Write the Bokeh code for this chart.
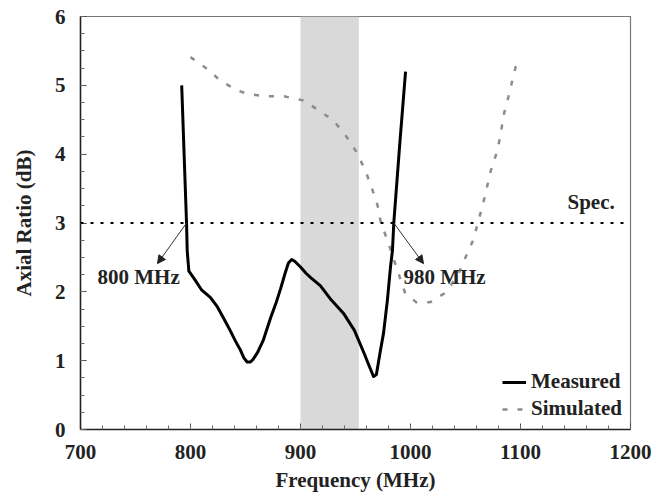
from bokeh.plotting import figure
from bokeh.models import (FixedTicker, Span, Arrow, NormalHead, Label, Legend, LegendItem,
                          Range1d)
from bokeh.embed import file_html
from bokeh.resources import INLINE

# ---- data ----
freq_measured = [792, 794.4, 796.4, 797, 798.5, 803, 810, 818, 824.5, 830, 836, 841, 845.5,
                 848.5, 851.5, 854.5, 857, 861, 866, 873, 878, 882, 886, 889, 892, 895, 900,
                 905, 909, 918, 927, 939, 949, 958, 963, 966.4, 969, 972.7, 975.5,
                 979, 981.8, 983.6, 984.8, 990, 995.5]
ar_measured = [5.0, 3.9, 3.0, 2.6, 2.3, 2.2, 2.03, 1.92, 1.78, 1.62, 1.44, 1.28, 1.15,
               1.04, 0.98, 0.98, 1.02, 1.12, 1.29, 1.63, 1.85, 2.05, 2.27, 2.42, 2.47, 2.44,
               2.36, 2.27, 2.21, 2.09, 1.9, 1.69, 1.44, 1.1, 0.9, 0.77, 0.8, 1.15, 1.4,
               1.88, 2.36, 2.6, 3.0, 4.1, 5.2]

freq_sim = [800, 815, 827, 842, 853, 870, 885, 903, 918, 930, 942, 951, 959, 965, 970, 973,
            979, 989, 995, 1005, 1018, 1032, 1043, 1050, 1057, 1061, 1066, 1073, 1079, 1082,
            1085, 1089, 1093, 1097]
ar_sim = [5.41, 5.24, 5.07, 4.93, 4.87, 4.84, 4.84, 4.78, 4.62, 4.49, 4.25, 4.03, 3.76, 3.5,
          3.26, 3.01, 2.75, 2.27, 1.99, 1.85, 1.85, 1.99, 2.24, 2.5, 2.75, 2.99, 3.28, 3.76,
          4.05, 4.3, 4.59, 4.83, 5.1, 5.36]

band_start = [900]
band_end = [953]
band_bottom = [0]
band_top = [6]

spec_level = 3
x_ticks = [700, 800, 900, 1000, 1100, 1200]
y_ticks = [0, 1, 2, 3, 4, 5, 6]
x_minor = list(range(700, 1201, 20))
y_minor = [i * 0.25 for i in range(0, 25)]

crossings = {"800 MHz": (796.4, 3.0), "980 MHz": (984.8, 3.0)}
label_pos = {"800 MHz": (770, 2.41), "980 MHz": (1011.8, 2.41)}

FONT = "Liberation Serif"

p = figure(width=657, height=504, output_backend="svg", toolbar_location=None,
           x_range=Range1d(700, 1200), y_range=Range1d(0, 6),
           min_border_left=80, min_border_right=27, min_border_top=16, min_border_bottom=75)
p.grid.visible = False
p.outline_line_color = "#777777"
p.outline_line_width = 1.2

# shaded band
p.quad(left=band_start, right=band_end, bottom=band_bottom, top=band_top,
       fill_color="#d9d9d9", line_color=None, level="underlay")

# spec line
p.add_layout(Span(location=spec_level, dimension="width", line_color="black",
                  line_width=2, line_dash="3 7"))

r_sim = p.line(freq_sim, ar_sim, line_color="#8c8c8c", line_width=2.5, line_dash="5 10")
r_meas = p.line(freq_measured, ar_measured, line_color="black", line_width=3,
                line_join="round")

# arrows + labels
for name, (x0, y0) in crossings.items():
    x1, y1 = label_pos[name]
    p.add_layout(Arrow(end=NormalHead(size=8, fill_color="#222222", line_color="#222222"),
                       x_start=x0, y_start=y0, x_end=x1, y_end=y1,
                       line_color="#333333", line_width=1))

p.add_layout(Label(x=715.5, y=2.21, text="800 MHz", text_font=FONT, text_font_style="bold",
                   text_font_size="21px", text_baseline="middle", text_color="#222222"))
p.add_layout(Label(x=993.6, y=2.21, text="980 MHz", text_font=FONT, text_font_style="bold",
                   text_font_size="21px", text_baseline="middle", text_color="#222222"))
p.add_layout(Label(x=1142.7, y=3.3, text="Spec.", text_font=FONT, text_font_style="bold",
                   text_font_size="21px", text_baseline="middle", text_color="#222222"))

# axes
for ax in (p.xaxis[0], p.yaxis[0]):
    ax.major_label_text_font = FONT
    ax.major_label_text_font_style = "bold"
    ax.major_label_text_font_size = "21px"
    ax.major_label_text_color = "#222222"
    ax.axis_label_text_font = FONT
    ax.axis_label_text_font_style = "bold"
    ax.axis_label_text_font_size = "21px"
    ax.axis_label_text_color = "#222222"
    ax.major_tick_in = 6
    ax.major_tick_out = 0
    ax.minor_tick_in = 4
    ax.minor_tick_out = 0
    ax.axis_line_width = 1.5
    ax.axis_line_color = "#222222"
    ax.major_tick_line_color = "#444444"
    ax.minor_tick_line_color = "#666666"
    ax.major_label_standoff = 15

p.xaxis.ticker = FixedTicker(ticks=x_ticks, minor_ticks=x_minor)
p.yaxis.ticker = FixedTicker(ticks=y_ticks, minor_ticks=y_minor)
p.xaxis.axis_label = "Frequency (MHz)"
p.yaxis.axis_label = "Axial Ratio (dB)"
p.xaxis.axis_label_standoff = 6
p.yaxis.axis_label_standoff = 16

legend = Legend(items=[LegendItem(label="Measured", renderers=[r_meas]),
                       LegendItem(label="Simulated", renderers=[r_sim])],
                location="bottom_right")
legend.border_line_color = None
legend.background_fill_alpha = 0
legend.label_text_font = FONT
legend.label_text_font_style = "bold"
legend.label_text_font_size = "21px"
legend.label_text_color = "#222222"
legend.glyph_width = 24
legend.spacing = 2
legend.margin = 8
p.add_layout(legend)

open("out.html", "w").write(file_html(p, INLINE))
